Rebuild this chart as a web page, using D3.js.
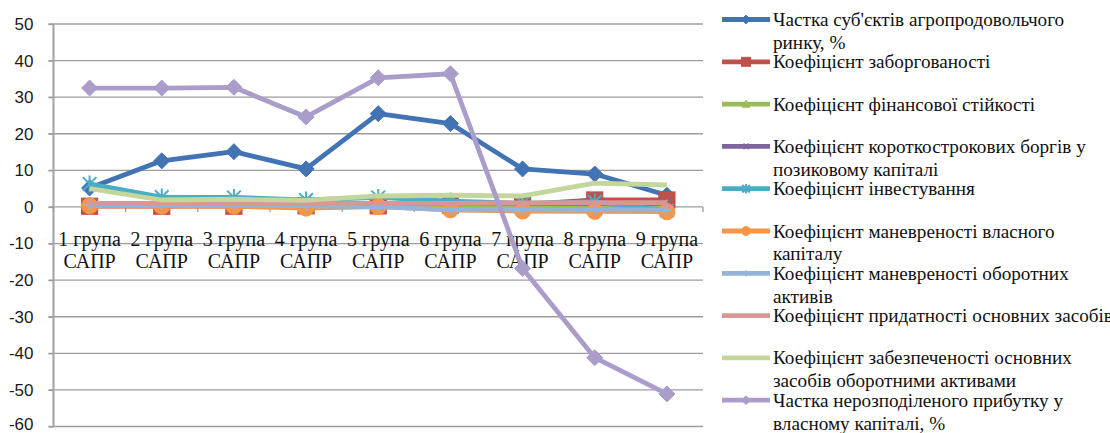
<!DOCTYPE html>
<html>
<head>
<meta charset="utf-8">
<script src="https://cdn.jsdelivr.net/npm/d3@7"></script>
<style>
  html, body { margin: 0; padding: 0; background: #fff; }
  svg { display: block; }
</style>
</head>
<body>
<svg id="chart" width="1110" height="433"></svg>
<script>
// Groups of agri-food market entities (САПР)
const categories = ["1 група", "2 група", "3 група", "4 група", "5 група", "6 група", "7 група", "8 група", "9 група"];
const categorySub = "САПР";

const yTicks = [50, 40, 30, 20, 10, 0, -10, -20, -30, -40, -50, -60];

// Indicator series
const share          = [5.2, 12.6, 15.1, 10.4, 25.5, 22.8, 10.4, 9.0, 3.2];
const debtRatio      = [0.2, 0.2, 0.2, 0.3, 0.3, 0.5, 0.6, 1.9, 1.9];
const finStability   = [0.8, 0.8, 0.8, 0.7, 0.7, 0.5, 0.4, 0.1, 0.1];
const shortTermDebt  = [0.9, 0.9, 0.9, 0.9, 1.0, 1.0, 1.0, 1.0, 1.0];
const investment     = [6.3, 2.7, 2.6, 1.9, 2.6, 1.6, 1.0, 1.4, -1.0];
const equityManeuver = [0.3, 0.2, 0.2, -0.3, 0.1, -0.8, -1.1, -1.2, -1.3];
const assetManeuver  = [0.6, 0.5, 0.5, 0.3, 0.1, -0.8, -0.8, -0.8, -0.8];
const fitness        = [1.0, 1.0, 1.0, 0.9, 1.0, 1.0, 1.1, 1.2, 1.2];
const coverage       = [5.0, 1.9, 2.1, 1.8, 3.0, 3.2, 3.0, 6.5, 6.0];
const retained       = [32.5, 32.5, 32.7, 24.6, 35.3, 36.4, -16.8, -41.2, -51.1];

const seriesNames = [
  ["Частка суб'єктів агропродовольчого", "ринку, %"],
  ["Коефіцієнт заборгованості"],
  ["Коефіцієнт фінансової стійкості"],
  ["Коефіцієнт короткострокових боргів у", "позиковому капіталі"],
  ["Коефіцієнт інвестування"],
  ["Коефіцієнт маневреності власного", "капіталу"],
  ["Коефіцієнт маневреності оборотних", "активів"],
  ["Коефіцієнт придатності основних засобів"],
  ["Коефіцієнт забезпеченості основних", "засобів оборотними активами"],
  ["Частка нерозподіленого прибутку у", "власному капіталі, %"]
];
const seriesValues = [share, debtRatio, finStability, shortTermDebt, investment,
                      equityManeuver, assetManeuver, fitness, coverage, retained];
const seriesColors = ["#4273b5", "#c0504d", "#9bbb59", "#8064a2", "#4bacc6",
                      "#f79646", "#95b3d7", "#d99694", "#c3d69b", "#ab9dca"];
const seriesMarkers = ["diamond", "square", "triangle", "x", "star",
                       "circle", "plus", "none", "none", "diamond"];

const SERIF = '"Liberation Serif"';
const SANS = '"Liberation Sans"';

const svg = d3.select("#chart");

const plot = { left: 53.5, right: 703, top: 24, bottom: 426.5 };

const x = d3.scaleBand().domain(categories).range([plot.left, plot.right]).padding(0);
const cx = c => x(c) + x.bandwidth() / 2;
const y = d3.scaleLinear().domain([-60, 50]).range([plot.bottom, plot.top]);

const gridColor = "#9c9c9c";

// Horizontal gridlines
svg.append("g")
  .selectAll("line")
  .data(yTicks)
  .join("line")
  .attr("x1", plot.left - 5).attr("x2", plot.right)
  .attr("y1", d => y(d)).attr("y2", d => y(d))
  .attr("stroke", gridColor).attr("stroke-width", 1.3);

// Value axis
const yAxis = svg.append("g")
  .attr("transform", `translate(${plot.left},0)`)
  .call(d3.axisLeft(y).tickValues(yTicks).tickSize(5).tickPadding(15).tickFormat(d => String(d)));
yAxis.select(".domain").attr("stroke", "#a8a8a8").attr("stroke-width", 2.2)
  .attr("d", `M0,${plot.top}V${plot.bottom}`);
yAxis.selectAll(".tick line").attr("stroke", gridColor).attr("stroke-width", 1.3);
yAxis.selectAll(".tick text").attr("fill", "#1a1a1a")
  .style("font-family", SANS).attr("font-size", 17);
yAxis.selectAll(".tick").filter(d => d === -60).select("text").attr("dy", "0.15em");

// Category axis along zero, ticks on band boundaries
const x0 = y(0);
svg.append("g")
  .selectAll("line")
  .data(categories.map(c => x(c) + x.bandwidth()).concat([plot.left]))
  .join("line")
  .attr("x1", d => d).attr("x2", d => d)
  .attr("y1", x0).attr("y2", x0 + 5)
  .attr("stroke", gridColor).attr("stroke-width", 1.3);

const labels = svg.append("g");
categories.forEach(c => {
  [c, categorySub].forEach((t, li) => {
    labels.append("text").attr("x", cx(c)).attr("y", 245.5 + li * 22)
      .attr("text-anchor", "middle").attr("fill", "#111")
      .style("font-family", SERIF).attr("font-size", 20)
      .text(t);
  });
});

// Marker shapes
function marker(g, type, color, px, py, s) {
  const h = s / 2;
  switch (type) {
    case "diamond":
      g.append("path").attr("d", `M${px},${py - h}L${px + h},${py}L${px},${py + h}L${px - h},${py}Z`)
        .attr("fill", color).attr("stroke", color).attr("stroke-width", 1);
      break;
    case "square":
      g.append("rect").attr("x", px - h * 0.9).attr("y", py - h * 0.9)
        .attr("width", s * 0.9).attr("height", s * 0.9)
        .attr("fill", color).attr("stroke", color).attr("stroke-width", 1);
      break;
    case "triangle":
      g.append("path").attr("d", `M${px},${py - h}L${px + h},${py + h * 0.8}L${px - h},${py + h * 0.8}Z`)
        .attr("fill", color).attr("stroke", color).attr("stroke-width", 1);
      break;
    case "circle":
      g.append("circle").attr("cx", px).attr("cy", py).attr("r", h * 0.95)
        .attr("fill", color).attr("stroke", color).attr("stroke-width", 1);
      break;
    case "x": {
      const k = h * 0.75;
      g.append("path").attr("d", `M${px - k},${py - k}L${px + k},${py + k}M${px - k},${py + k}L${px + k},${py - k}`)
        .attr("stroke", color).attr("stroke-width", 2).attr("fill", "none");
      break;
    }
    case "star": {
      const k = h * 0.8;
      g.append("path").attr("d", `M${px - k},${py - k}L${px + k},${py + k}M${px - k},${py + k}L${px + k},${py - k}M${px},${py - h}L${px},${py + h}`)
        .attr("stroke", color).attr("stroke-width", 2).attr("fill", "none");
      break;
    }
    case "plus":
      g.append("path").attr("d", `M${px - h * 0.8},${py}L${px + h * 0.8},${py}M${px},${py - h * 0.8}L${px},${py + h * 0.8}`)
        .attr("stroke", color).attr("stroke-width", 2).attr("fill", "none");
      break;
    default:
      break;
  }
}

const markerSize = { diamond: 16, square: 18, triangle: 14, circle: 17, x: 13, star: 17, plus: 13, none: 0 };

const line = d3.line().x((d, i) => cx(categories[i])).y(d => y(d));

// Series: each line with its markers, drawn in series order
seriesValues.forEach((vals, si) => {
  const g = svg.append("g");
  g.append("path").datum(vals)
    .attr("d", line)
    .attr("fill", "none")
    .attr("stroke", seriesColors[si])
    .attr("stroke-width", 4.8)
    .attr("stroke-linejoin", "round");
  vals.forEach((v, i) => marker(g, seriesMarkers[si], seriesColors[si], cx(categories[i]), y(v), markerSize[seriesMarkers[si]]));
});

// Legend
const legend = svg.append("g");
const legendX = 722, legendW = 48, legendTextX = 773;
seriesNames.forEach((lines, si) => {
  const ly = 19.5 + si * 42.3;
  const g = legend.append("g");
  g.append("line").attr("x1", legendX).attr("x2", legendX + legendW)
    .attr("y1", ly).attr("y2", ly)
    .attr("stroke", seriesColors[si]).attr("stroke-width", 4.8);
  const ms = markerSize[seriesMarkers[si]] * 0.55;
  marker(g, seriesMarkers[si], seriesColors[si], legendX + legendW / 2, ly, ms);
  lines.forEach((t, li) => {
    g.append("text").attr("x", legendTextX).attr("y", ly + 6.5 + li * 22.8)
      .attr("fill", "#111")
      .style("font-family", SERIF).attr("font-size", 19.2)
      .text(t);
  });
});
</script>
</body>
</html>
